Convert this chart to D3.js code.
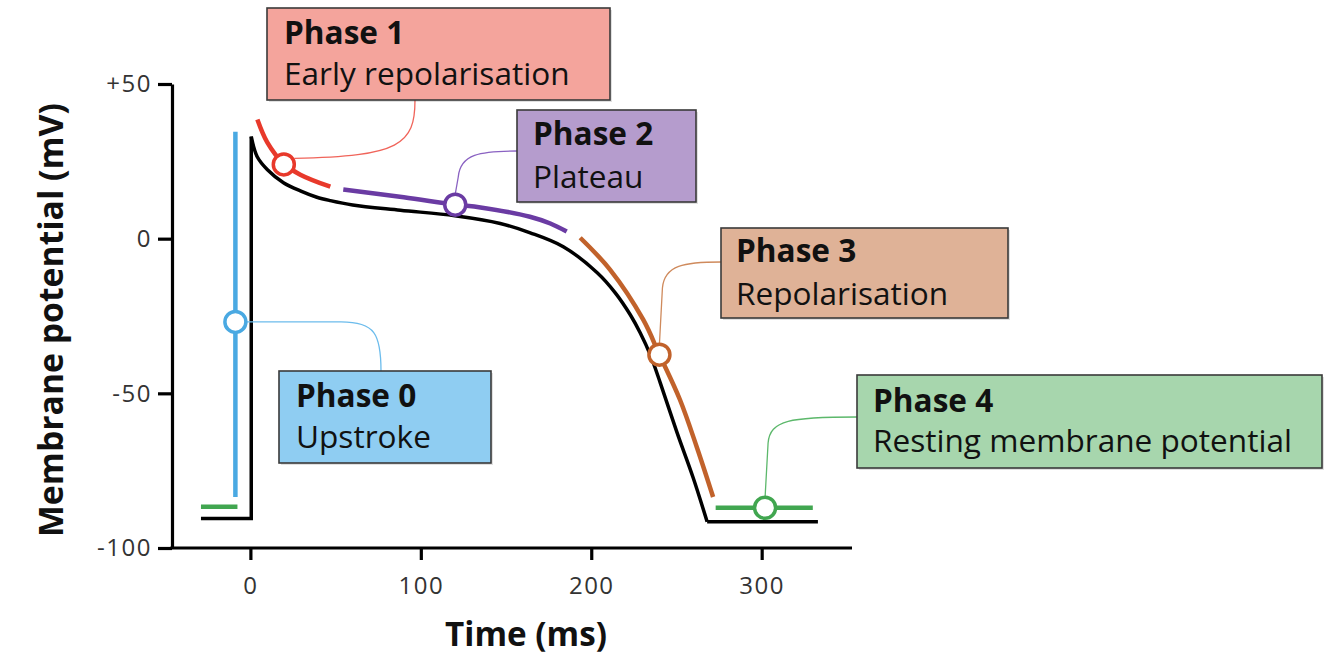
<!DOCTYPE html>
<html>
<head>
<meta charset="utf-8">
<script src="https://cdn.jsdelivr.net/npm/d3@7"></script>
<style>
  html, body { margin: 0; padding: 0; background: #fff; }
  svg { display: block; }
</style>
</head>
<body>
<svg id="chart" width="1334" height="661"></svg>
<script>
// ---- data (time in ms, potential in mV) ----
const xTicks = [0, 100, 200, 300];
const yTicks = [50, 0, -50, -100];

// black action potential trace, split where it has hard corners
const restBefore = [[-29, -90.5], [0.5, -90.5], [0.5, 33]];
const apCurve = [
  [0.5, 33], [4, 26.5], [10, 22.3], [19.4, 18.1], [30, 15.3], [39, 13.4],
  [46.9, 12.3], [60, 10.9], [88, 9.2], [120, 7.4], [146.6, 4.9], [164.2, 1.9],
  [183.6, -2.6], [203.5, -11.0], [214.1, -17.5], [222.9, -24.6], [228.7, -30.4],
  [234.6, -37.5], [240.5, -46.6], [250.4, -62.8], [259.8, -77.3], [268, -91.5]
];
const restAfter = [[268, -91.5], [333, -91.5]];

// coloured phase segments drawn just beside the trace
const phase0Line = [[-8.8, 34.6], [-8.8, -83.5]];
const phase1Line = [[4.1, 38.5], [9.9, 31.1], [19.4, 24.3], [29.3, 20.7], [46.9, 16.8]];
const phase2Line = [[54.5, 15.9], [90, 13.4], [120.2, 11.0], [135, 10.1], [164, 7.1], [176, 4.9], [185.6, 2.3]];
const phase3Line = [[193.5, 0.3], [211, -10], [230.5, -26.2], [240, -37.5], [252, -52], [262, -67.5], [271.5, -83.5]];
const phase4Left = [[-29, -86.7], [-7.6, -86.7]];
const phase4Right = [[273, -87], [330, -87]];

// where each phase's marker circle sits
const phaseNames = ['Phase 0', 'Phase 1', 'Phase 2', 'Phase 3', 'Phase 4'];
const phaseDescs = ['Upstroke', 'Early repolarisation', 'Plateau', 'Repolarisation', 'Resting membrane potential'];
const markerPoints = [[-8.8, -26.9], [19.6, 24.0], [120.2, 11.0], [240, -37.5], [302, -87]];

// ---- styling ----
const lineColors = ['#4aa9e2', '#e8392b', '#6a3ba3', '#c1622b', '#41a650'];
const linkColors = ['#6cbcec', '#f0645a', '#8a62c2', '#cf8a5c', '#5cb86b'];
const boxFills = ['#8fcdf2', '#f4a49c', '#b59ccd', '#dfb297', '#a7d6ad'];
// annotation box layout (pixels)
const boxes = [
  { x: 279, y: 371, w: 212, h: 92, tx: 296, b1: 407, b2: 448 },
  { x: 267, y: 8, w: 343, h: 92, tx: 284, b1: 44, b2: 85 },
  { x: 517, y: 110, w: 179, h: 92, tx: 533, b1: 145, b2: 188 },
  { x: 721, y: 228, w: 287, h: 90, tx: 736, b1: 262, b2: 305 },
  { x: 857, y: 375, w: 465, h: 93, tx: 873, b1: 412, b2: 452 }
];

const svg = d3.select('#chart');

const x = d3.scaleLinear().domain([-46, 353]).range([172, 852]);
const y = d3.scaleLinear().domain([-100, 50]).range([548, 84]);

const tickFont = "'Open Sans', sans-serif";
const labelFont = "'Open Sans', sans-serif";

// shrink or grow a text so it fills a given width
function fitWidth(sel, target) {
  const node = sel.node();
  const fs = parseFloat(sel.attr('font-size'));
  const len = node.getComputedTextLength();
  sel.attr('font-size', (fs * target / len).toFixed(2));
}

// axes
const yAxis = svg.append('g')
  .attr('transform', `translate(${x.range()[0]},0)`)
  .call(d3.axisLeft(y).tickValues(yTicks).tickSize(14).tickSizeOuter(0).tickPadding(6)
    .tickFormat(d => d > 0 ? '+' + d : d));

const xAxis = svg.append('g')
  .attr('transform', `translate(0,${y.range()[0]})`)
  .call(d3.axisBottom(x).tickValues(xTicks).tickSize(12).tickSizeOuter(0).tickPadding(17));

[xAxis, yAxis].forEach(g => {
  g.select('.domain').attr('stroke', '#000').attr('stroke-width', 3.2);
  g.selectAll('.tick line').attr('stroke', '#000').attr('stroke-width', 3.2);
  g.selectAll('.tick text')
    .attr('font-family', tickFont)
    .attr('font-size', 24)
    .attr('letter-spacing', 1.5)
    .attr('fill', '#333');
});
// make the x domain start under the y axis
xAxis.select('.domain').attr('d', `M${x.range()[0] - 1.6},0H${x.range()[1]}`);

// axis titles
const xTitle = svg.append('text')
  .attr('x', 526).attr('y', 646)
  .attr('text-anchor', 'middle')
  .attr('font-family', labelFont).attr('font-weight', 700)
  .attr('font-size', 26).attr('fill', '#111')
  .text('Time (ms)');
fitWidth(xTitle, 162);

const yTitle = svg.append('text')
  .attr('transform', 'translate(63,320) rotate(-90)')
  .attr('text-anchor', 'middle')
  .attr('font-family', labelFont).attr('font-weight', 700)
  .attr('font-size', 26).attr('fill', '#111')
  .text('Membrane potential (mV)');
fitWidth(yTitle, 434);

// trace
const straight = d3.line().x(d => x(d[0])).y(d => y(d[1]));
const smooth = d3.line().x(d => x(d[0])).y(d => y(d[1])).curve(d3.curveCatmullRom.alpha(0.5));

const trace = svg.append('g')
  .attr('fill', 'none').attr('stroke', '#000').attr('stroke-width', 3.5)
  .attr('stroke-linejoin', 'miter');
trace.append('path').attr('d', straight(restBefore));
trace.append('path').attr('d', smooth(apCurve));
trace.append('path').attr('d', straight(restAfter));

// coloured phase lines
const seg = svg.append('g').attr('fill', 'none').attr('stroke-width', 4.5);
seg.append('path').attr('d', straight(phase0Line)).attr('stroke', lineColors[0]);
seg.append('path').attr('d', smooth(phase1Line)).attr('stroke', lineColors[1]);
seg.append('path').attr('d', smooth(phase2Line)).attr('stroke', lineColors[2]);
seg.append('path').attr('d', smooth(phase3Line)).attr('stroke', lineColors[3]);
seg.append('path').attr('d', straight(phase4Left)).attr('stroke', lineColors[4]);
seg.append('path').attr('d', straight(phase4Right)).attr('stroke', lineColors[4]);

// connectors from marker to box
const r = 10.5;
const links = markerPoints.map((p, i) => {
  const mx = x(p[0]), my = y(p[1]), b = boxes[i];
  if (i === 0) {
    const ex = b.x + 102;
    return `M${mx + r},${my}L${ex - 40},${my}C${ex - 6},${my} ${ex},${my + 12} ${ex},${b.y}`;
  }
  if (i === 1) {
    const ex = b.x + 148;
    return `M${mx + r},${my - 6}C${ex - 15},${my - 8} ${ex},${my - 20} ${ex},${b.y + b.h}`;
  }
  const ey = b.y + (i === 2 ? 41 : i === 3 ? 34 : 42);
  return `M${mx},${my - r}L${mx + 3},${ey + 26}C${mx + 5},${ey + 3} ${mx + 25},${ey} ${b.x},${ey}`;
});
svg.append('g').attr('fill', 'none').attr('stroke-width', 1.3)
  .selectAll('path').data(links).join('path')
  .attr('d', d => d)
  .attr('stroke', (d, i) => linkColors[i]);

// marker circles
svg.append('g').selectAll('circle').data(markerPoints).join('circle')
  .attr('cx', d => x(d[0])).attr('cy', d => y(d[1])).attr('r', r)
  .attr('fill', '#fff').attr('stroke-width', 3.5)
  .attr('stroke', (d, i) => lineColors[i]);

// annotation boxes
const boxG = svg.append('g').selectAll('g').data(boxes).join('g');
boxG.append('rect')
  .attr('x', d => d.x + 2).attr('y', d => d.y + 2)
  .attr('width', d => d.w).attr('height', d => d.h)
  .attr('fill', '#000').attr('opacity', 0.12);
boxG.append('rect')
  .attr('x', d => d.x).attr('y', d => d.y)
  .attr('width', d => d.w).attr('height', d => d.h)
  .attr('fill', (d, i) => boxFills[i])
  .attr('stroke', '#3a3a3a').attr('stroke-width', 1.6);

const t1 = boxG.append('text')
  .attr('x', d => d.tx).attr('y', d => d.b1)
  .attr('font-family', labelFont).attr('font-weight', 700)
  .attr('font-size', 24).attr('fill', '#111')
  .text((d, i) => phaseNames[i]);
const t2 = boxG.append('text')
  .attr('x', d => d.tx).attr('y', d => d.b2)
  .attr('font-family', labelFont).attr('font-weight', 400)
  .attr('font-size', 24).attr('fill', '#111')
  .text((d, i) => phaseDescs[i]);

// size the box text from the widest description
const probe = d3.select(t2.nodes()[4]);
fitWidth(probe, 419);
const boxFs = probe.attr('font-size');
t1.attr('font-size', boxFs);
t2.attr('font-size', boxFs);
</script>
</body>
</html>
